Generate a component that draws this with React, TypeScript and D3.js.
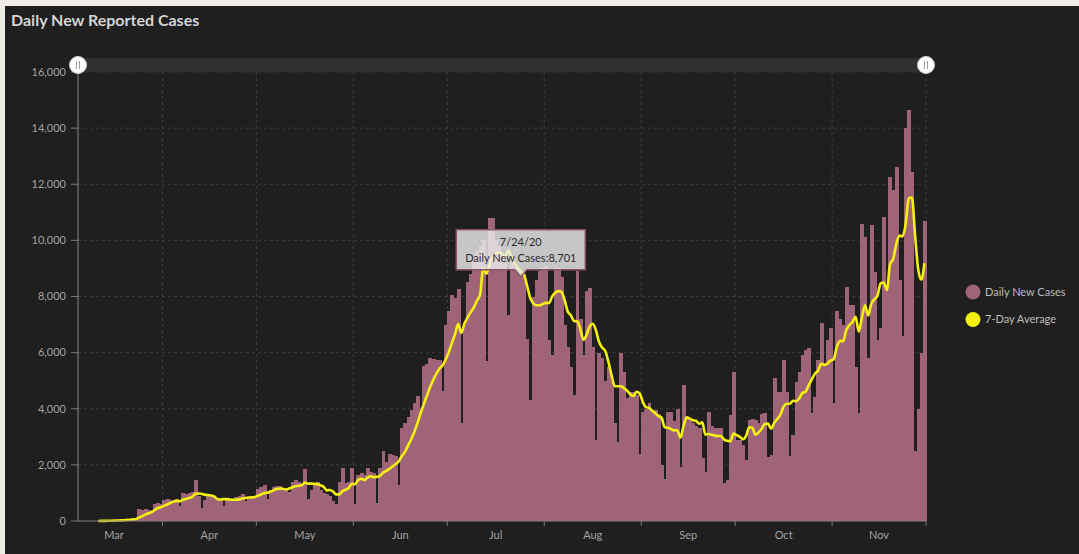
import * as d3 from "d3";

// daily new reported cases, Mar 5 – Nov 30 2020 (one value per day)
const marCases = [0, 0, 1, 2, 3, 5, 6, 8, 12, 15, 20, 25, 30, 40, 50, 60, 75, 90, 110, 430, 380, 430, 400, 350, 600, 650, 600];
const aprCases = [750, 780, 750, 700, 800, 520, 1000, 950, 1000, 1050, 1450, 900, 450, 750, 900, 850, 850, 800, 750, 550, 750, 800, 800, 850, 900, 950, 700, 850, 850, 900];
const mayCases = [1150, 1200, 1300, 800, 1100, 1200, 1250, 1250, 1150, 1100, 1050, 1400, 1450, 1400, 1350, 1850, 800, 1100, 1300, 1400, 1100, 1000, 950, 900, 700, 600, 1400, 1900, 1350, 1400, 1900];
const junCases = [600, 1650, 1700, 1650, 1900, 1750, 1700, 650, 1900, 2500, 2100, 2400, 2350, 2300, 1300, 3300, 3500, 3700, 3960, 4200, 4440, 3840, 5510, 5600, 5800, 5770, 5740, 5740, 4620, 7000];
const julCases = [7500, 8070, 7950, 8250, 3490, 7000, 8500, 8800, 9300, 9600, 9800, 10000, 5690, 10800, 10800, 10000, 9800, 9500, 9200, 7350, 9400, 9100, 8900, 8701, 8800, 6500, 4300, 8000, 8600, 8900, 9000];
const augCases = [9100, 6450, 5900, 9000, 9000, 8700, 7000, 6200, 5500, 4500, 8900, 7200, 5900, 8200, 8300, 6200, 2900, 6000, 5800, 5000, 5500, 5000, 3500, 2800, 6000, 5300, 4400, 4600, 4600, 4500, 2400];
const sepCases = [3900, 4000, 4200, 3900, 3960, 3800, 2000, 1500, 3900, 3900, 3550, 4000, 1940, 4850, 3700, 3600, 3500, 3400, 3300, 2240, 1760, 3900, 3400, 3300, 3300, 3300, 1340, 1460, 3780, 5320];
const octCases = [2900, 2900, 2700, 2170, 3600, 3650, 3600, 3500, 3800, 3850, 2290, 2350, 5080, 4600, 4600, 5740, 4600, 2300, 3060, 4970, 5320, 5920, 6090, 6150, 3840, 4430, 5740, 7040, 5620, 6450, 6870];
const novCases = [4200, 7500, 7200, 7000, 8350, 7700, 7700, 5500, 3840, 10600, 10130, 5800, 10540, 8880, 6450, 6870, 10840, 8230, 12270, 11790, 12620, 8600, 6600, 14000, 14650, 12450, 2500, 4000, 6000, 10700];

const yTicks = [0, 2000, 4000, 6000, 8000, 10000, 12000, 14000, 16000];
const legendItems = ["Daily New Cases", "7-Day Average"];
const tooltipDate = "7/24/20";

const firstDay = new Date(Date.UTC(2020, 2, 5));
const lastDay = new Date(Date.UTC(2020, 11, 1));

const cases = [
  ...marCases, ...aprCases, ...mayCases, ...junCases, ...julCases,
  ...augCases, ...sepCases, ...octCases, ...novCases,
];

const days = cases.map((v, i) => ({
  date: d3.utcDay.offset(firstDay, i),
  value: v,
  avg: i >= 6 ? d3.mean(cases.slice(i - 6, i + 1)) : null,
}));

const W = 1079;
const H = 554;
const plot = { left: 78, right: 926, top: 72, bottom: 521 };
const font = "Lato, 'Open Sans', sans-serif";
const pink = "#9f6478";
const yellow = "#f4f012";

export default function App() {
  const x = d3.scaleUtc().domain([firstDay, lastDay]).range([plot.left, plot.right]);
  const y = d3.scaleLinear().domain([0, 16000]).range([plot.bottom, plot.top]);
  const cx = (d: Date) => (x(d) + x(d3.utcDay.offset(d, 1))) / 2;

  const line = d3
    .line<any>()
    .defined((d) => d.avg != null)
    .x((d) => cx(d.date))
    .y((d) => y(d.avg))
    .curve(d3.curveMonotoneX);

  const gridMonths = d3.utcMonth.range(new Date(Date.UTC(2020, 3, 1)), d3.utcDay.offset(lastDay, 1));
  const labelMonths = d3.utcMonth.range(new Date(Date.UTC(2020, 2, 1)), lastDay);
  const fmtMonth = d3.utcFormat("%b");
  const fmtNum = d3.format(",");

  // tooltip anchored on the 7/24 bar
  const tipDay = days.find((d) => d3.utcFormat("%-m/%-d/%y")(d.date) === tooltipDate)!;
  const tipX = cx(tipDay.date);
  const tipY = y(tipDay.value);
  const boxW = 129;
  const boxH = 40;
  const boxBottom = tipY - 7;

  return (
    <svg
      width={W}
      height={H}
      style={{ position: "absolute", left: 0, top: 0, display: "block" }}
      fontFamily={font}
    >
      <rect width={W} height={H} fill="#efebe5" />
      <rect x={5} y={6} width={W - 5} height={H - 6} fill="#1f1f1f" />

      <text x={11} y={26} fill="#d4d4d4" fontSize={16} fontWeight={700}>
        Daily New Reported Cases
      </text>

      {/* grid */}
      {yTicks.slice(1).map((t) => (
        <line
          key={"gy" + t}
          x1={plot.left}
          x2={plot.right}
          y1={y(t)}
          y2={y(t)}
          stroke="#3d3d3d"
          strokeDasharray="3,3"
        />
      ))}
      {gridMonths.map((m) => (
        <line
          key={"gx" + m.getTime()}
          x1={x(m)}
          x2={x(m)}
          y1={plot.top - 6}
          y2={plot.bottom}
          stroke="#3d3d3d"
          strokeDasharray="3,3"
        />
      ))}

      {/* bars */}
      <g shapeRendering="crispEdges">
        {days.map((d, i) => {
          const x0 = x(d.date);
          const x1 = x(d3.utcDay.offset(d.date, 1));
          return (
            <rect
              key={"b" + i}
              x={x0}
              y={y(d.value)}
              width={x1 - x0 + 0.8}
              height={y(0) - y(d.value)}
              fill={pink}
            />
          );
        })}
      </g>

      {/* 7-day average */}
      <path d={line(days) || ""} fill="none" stroke={yellow} strokeWidth={2.6} strokeLinejoin="round" />

      {/* axes */}
      <line x1={plot.left} x2={plot.right} y1={plot.bottom} y2={plot.bottom} stroke="#808080" />
      <line x1={plot.left} x2={plot.left} y1={plot.top - 7} y2={plot.bottom} stroke="#8a8a8a" />
      {yTicks.map((t) => (
        <g key={"yt" + t}>
          <line x1={plot.left - 7} x2={plot.left} y1={y(t)} y2={y(t)} stroke="#7a7a7a" />
          <text x={66} y={y(t)} dy="0.35em" textAnchor="end" fill="#a3a3a3" fontSize={11}>
            {fmtNum(t)}
          </text>
        </g>
      ))}
      {gridMonths.map((m) => (
        <line
          key={"xt" + m.getTime()}
          x1={x(m)}
          x2={x(m)}
          y1={plot.bottom}
          y2={plot.bottom + 5}
          stroke="#7a7a7a"
        />
      ))}
      {labelMonths.map((m) => {
        const mid = (x(m) + x(d3.utcMonth.offset(m, 1))) / 2;
        return (
          <text key={"xl" + m.getTime()} x={mid} y={539} textAnchor="middle" fill="#a3a3a3" fontSize={11}>
            {fmtMonth(m)}
          </text>
        );
      })}

      {/* scrollbar */}
      <rect x={plot.left} y={58} width={plot.right - plot.left} height={14} fill="#303030" />
      {[plot.left, plot.right].map((hx) => (
        <g key={"h" + hx}>
          <circle cx={hx} cy={65} r={8.5} fill="#ffffff" stroke="#d0d0d0" />
          <line x1={hx - 1.5} x2={hx - 1.5} y1={61} y2={69} stroke="#9a9a9a" />
          <line x1={hx + 1.5} x2={hx + 1.5} y1={61} y2={69} stroke="#9a9a9a" />
        </g>
      ))}

      {/* legend */}
      {legendItems.map((name, i) => (
        <g key={name} transform={`translate(973,${292 + i * 27.5})`}>
          <circle r={7.5} fill={i === 0 ? pink : yellow} />
          <text x={12} dy="0.35em" fill="#bdbdbd" fontSize={11}>
            {name}
          </text>
        </g>
      ))}

      {/* tooltip */}
      <g>
        <path
          d={`M${tipX - boxW / 2},${boxBottom - boxH} h${boxW} v${boxH} h${-(boxW / 2 - 6)} l-6,7 l-6,-7 h${-(boxW / 2 - 6)} Z`}
          fill="rgba(236,236,236,0.82)"
          stroke="#8c5568"
          strokeWidth={1.5}
        />
        <text x={tipX} y={boxBottom - 24} textAnchor="middle" fill="#2a2a2a" fontSize={11}>
          {tooltipDate}
        </text>
        <text x={tipX} y={boxBottom - 8} textAnchor="middle" fill="#2a2a2a" fontSize={11}>
          {`Daily New Cases:${fmtNum(tipDay.value)}`}
        </text>
      </g>
    </svg>
  );
}
